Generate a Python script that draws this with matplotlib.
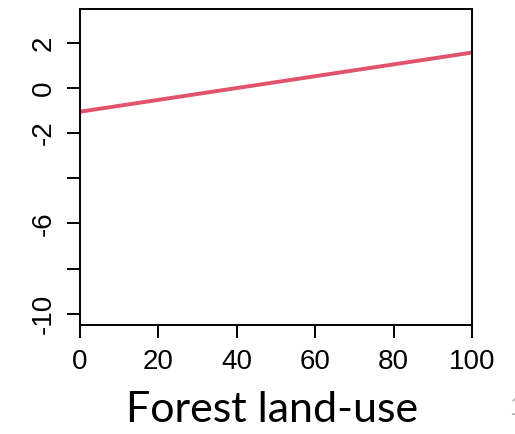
import numpy as np
import matplotlib.pyplot as plt

# fitted line: forest land-use vs effect
x_vals = [0, 100]
y_vals = [-1.05, 1.57]
x_ticks = [0, 20, 40, 60, 80, 100]
y_ticks = [2, 0, -2, -4, -6, -8, -10]
y_tick_labels = ["2", "0", "-2", "", "-6", "", "-10"]

plt.rcParams['font.family'] = ['Liberation Sans', 'DejaVu Sans']

fig = plt.figure(figsize=(5.15, 4.34), dpi=100)
ax = fig.add_axes([80 / 515, 1 - 325 / 434, 392 / 515, 316 / 434])

ax.plot(x_vals, y_vals, color="#DF536B", linewidth=2.8, solid_capstyle="butt")

ax.set_xlim(0, 100)
ax.set_ylim(-10.5, 3.5)
ax.set_xticks(x_ticks)
ax.set_xticklabels([str(t) for t in x_ticks], fontsize=20)
ax.set_yticks(y_ticks)
ax.set_yticklabels(y_tick_labels, fontsize=20, rotation=90, va="center")

for s in ax.spines.values():
    s.set_linewidth(1.4)
ax.tick_params(axis="both", direction="out", length=9.5, width=1.4)
ax.tick_params(axis="x", pad=8)
ax.tick_params(axis="y", pad=7)

fig.text(272 / 515, 1 - 410 / 434, "Forest land-use", ha="center", va="center",
         fontsize=31, family=["Lato", "DejaVu Sans"])
fig.text(509 / 515, 1 - 408 / 434, "1", ha="left", va="center",
         fontsize=18, color="#b0b0b0")

fig.savefig("out.png", dpi=100)
